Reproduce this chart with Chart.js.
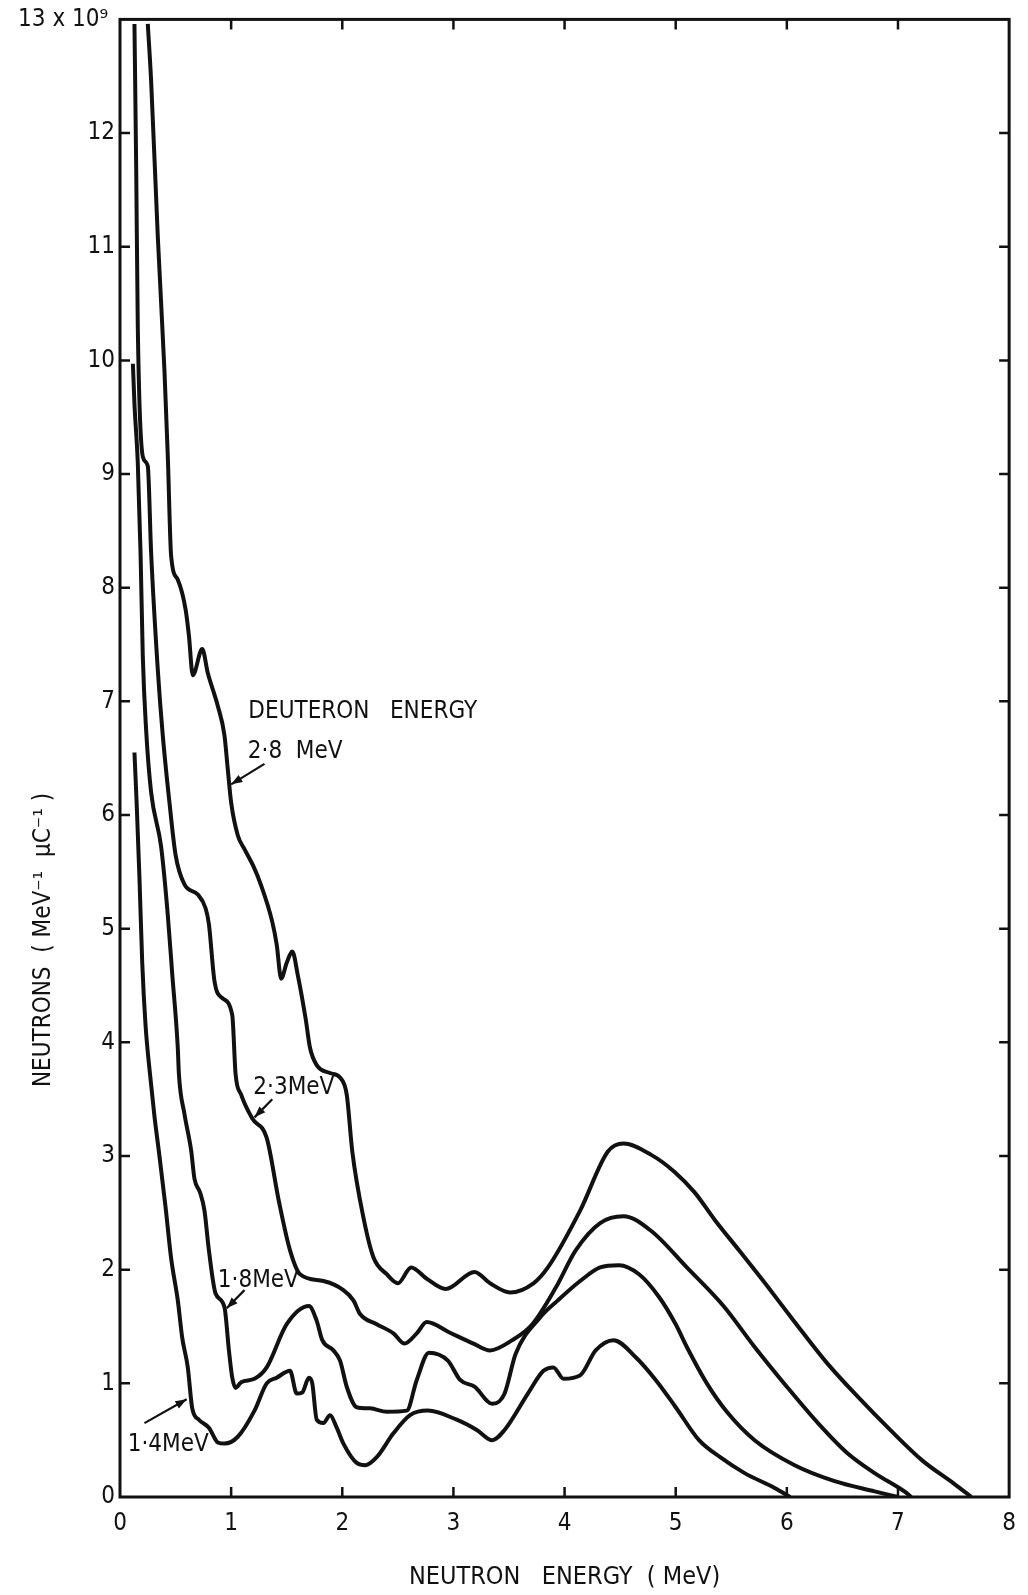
<!DOCTYPE html>
<html>
<head>
<meta charset="utf-8">
<script src="https://cdn.jsdelivr.net/npm/chart.js@4.4.1/dist/chart.umd.min.js"></script>
<style>
html, body { margin: 0; background: #fff; }
canvas { display: block; }
</style>
</head>
<body>
<canvas id="plot" width="1028" height="1595"></canvas>
<script>
// neutron spectra, [energy MeV, neutrons x1e9]
const e28 = [[0.25,12.96],[0.28,12.46],[0.34,11.09],[0.40,9.91],[0.43,9.16],[0.46,8.28],[0.52,8.07],[0.59,7.81],[0.62,7.58],[0.655,7.23],[0.74,7.46],[0.79,7.25],[0.88,6.96],[0.94,6.70],[0.97,6.40],[1.00,6.11],[1.06,5.82],[1.12,5.70],[1.20,5.55],[1.27,5.38],[1.37,5.06],[1.41,4.86],[1.45,4.56],[1.50,4.70],[1.55,4.80],[1.60,4.59],[1.67,4.21],[1.71,3.95],[1.77,3.80],[1.89,3.73],[1.98,3.69],[2.04,3.54],[2.09,3.04],[2.19,2.46],[2.28,2.11],[2.40,1.96],[2.50,1.88],[2.62,2.02],[2.76,1.92],[2.93,1.83],[3.19,1.98],[3.33,1.88],[3.51,1.80],[3.72,1.88],[3.85,2.02],[4.14,2.52],[4.39,3.04],[4.53,3.11],[4.78,3.01],[4.99,2.86],[5.17,2.68],[5.35,2.44],[5.57,2.17],[5.82,1.86],[6.07,1.54],[6.36,1.18],[6.64,0.88],[6.93,0.59],[7.22,0.32],[7.50,0.12],[7.66,0]];
const e23 = [[0.13,12.96],[0.146,11.67],[0.16,10.3],[0.206,9.15],[0.25,9.07],[0.28,8.31],[0.34,7.28],[0.385,6.7],[0.445,6.11],[0.50,5.65],[0.58,5.39],[0.70,5.30],[0.77,5.18],[0.80,5.04],[0.85,4.54],[0.92,4.39],[1.01,4.24],[1.04,3.72],[1.09,3.54],[1.19,3.33],[1.32,3.16],[1.43,2.6],[1.53,2.17],[1.62,1.96],[1.83,1.90],[2.01,1.82],[2.10,1.73],[2.16,1.61],[2.31,1.52],[2.46,1.44],[2.56,1.35],[2.67,1.44],[2.76,1.54],[2.96,1.45],[3.18,1.35],[3.33,1.29],[3.53,1.38],[3.71,1.52],[3.92,1.84],[4.10,2.17],[4.32,2.41],[4.53,2.47],[4.78,2.34],[5.10,2.02],[5.43,1.68],[5.71,1.32],[6.00,0.97],[6.28,0.65],[6.54,0.39],[6.79,0.21],[7.07,0.04],[7.12,0]];
const e18 = [[0.116,9.97],[0.13,9.62],[0.16,9.1],[0.185,8.3],[0.205,7.4],[0.235,6.75],[0.28,6.2],[0.37,5.72],[0.43,5.12],[0.47,4.6],[0.52,3.95],[0.53,3.72],[0.58,3.37],[0.64,3.05],[0.67,2.8],[0.72,2.68],[0.76,2.52],[0.80,2.17],[0.86,1.79],[0.94,1.67],[0.98,1.29],[1.01,1.05],[1.04,0.96],[1.09,1.01],[1.21,1.04],[1.32,1.14],[1.50,1.52],[1.70,1.68],[1.77,1.55],[1.82,1.38],[1.92,1.29],[1.98,1.2],[2.04,0.97],[2.13,0.79],[2.25,0.78],[2.40,0.75],[2.58,0.76],[2.67,1.03],[2.78,1.27],[2.95,1.2],[3.06,1.03],[3.19,0.97],[3.35,0.82],[3.46,0.91],[3.56,1.26],[3.78,1.58],[3.94,1.73],[4.14,1.90],[4.32,2.02],[4.49,2.04],[4.67,1.96],[4.85,1.76],[5.00,1.52],[5.10,1.32],[5.28,1.0],[5.46,0.75],[5.71,0.50],[6.07,0.28],[6.43,0.14],[6.79,0.05],[7.0,0]];
const e14 = [[0.13,6.55],[0.15,6.1],[0.175,5.45],[0.20,4.7],[0.23,4.15],[0.27,3.72],[0.31,3.35],[0.355,3.0],[0.41,2.55],[0.46,2.1],[0.52,1.73],[0.56,1.40],[0.61,1.14],[0.65,0.78],[0.71,0.68],[0.80,0.61],[0.88,0.48],[0.94,0.47],[1.06,0.53],[1.21,0.76],[1.32,1.0],[1.41,1.05],[1.53,1.11],[1.59,0.91],[1.64,0.92],[1.70,1.05],[1.73,1.0],[1.77,0.68],[1.83,0.65],[1.89,0.72],[1.95,0.61],[2.01,0.47],[2.13,0.30],[2.21,0.28],[2.31,0.35],[2.46,0.56],[2.61,0.72],[2.77,0.76],[3.03,0.68],[3.21,0.59],[3.35,0.50],[3.46,0.59],[3.67,0.91],[3.81,1.11],[3.90,1.14],[3.99,1.04],[4.14,1.07],[4.28,1.29],[4.44,1.38],[4.64,1.23],[4.82,1.03],[5.00,0.79],[5.21,0.50],[5.40,0.35],[5.62,0.21],[5.89,0.08],[6.03,0]];

const seriesNames = ['2·8 MeV', '2·3 MeV', '1·8 MeV', '1·4 MeV'];
const xTicks = [0, 1, 2, 3, 4, 5, 6, 7, 8];
const yTicks = [0, 1, 2, 3, 4, 5, 6, 7, 8, 9, 10, 11, 12, 13];

const ink = '#111';
const face = "'DejaVu Sans Condensed', 'DejaVu Sans', sans-serif";

// curve labels and arrows, placed in data units
const notes = [
    { text: 'DEUTERON   ENERGY', x: 1.155, y: 6.91 },
    { text: '2·8  MeV', x: 1.15, y: 6.56 },
    { text: '2·3MeV', x: 1.2, y: 3.6 },
    { text: '1·8MeV', x: 0.88, y: 1.9 },
    { text: '1·4MeV', x: 0.07, y: 0.46 }
];
const arrows = [
    [1.30, 6.45, 1.0, 6.27],
    [1.37, 3.50, 1.21, 3.34],
    [1.12, 1.82, 0.96, 1.66],
    [0.22, 0.65, 0.60, 0.86]
];

function toPoints(arr) {
    return arr.map(p => ({ x: p[0], y: p[1] }));
}

const frame = {
    id: 'frame',
    afterDraw(chart) {
        const { ctx, chartArea: a, scales: { x, y } } = chart;
        ctx.save();
        ctx.strokeStyle = ink;
        ctx.fillStyle = ink;
        ctx.lineWidth = 3;
        ctx.strokeRect(a.left, a.top, a.right - a.left, a.bottom - a.top);

        // inward ticks on all four sides
        ctx.lineWidth = 2.5;
        ctx.beginPath();
        xTicks.slice(1, -1).forEach(v => {
            const px = x.getPixelForValue(v);
            ctx.moveTo(px, a.bottom); ctx.lineTo(px, a.bottom - 10);
            ctx.moveTo(px, a.top); ctx.lineTo(px, a.top + 10);
        });
        yTicks.slice(1, -1).forEach(v => {
            const py = y.getPixelForValue(v);
            ctx.moveTo(a.left, py); ctx.lineTo(a.left + 10, py);
            ctx.moveTo(a.right, py); ctx.lineTo(a.right - 10, py);
        });
        ctx.stroke();

        ctx.font = '24px ' + face;
        ctx.textBaseline = 'middle';
        ctx.textAlign = 'left';
        notes.forEach(n => {
            ctx.fillText(n.text, x.getPixelForValue(n.x), y.getPixelForValue(n.y));
        });

        ctx.lineWidth = 2.2;
        arrows.forEach(r => {
            const x0 = x.getPixelForValue(r[0]), y0 = y.getPixelForValue(r[1]);
            const x1 = x.getPixelForValue(r[2]), y1 = y.getPixelForValue(r[3]);
            const ang = Math.atan2(y1 - y0, x1 - x0);
            ctx.beginPath();
            ctx.moveTo(x0, y0); ctx.lineTo(x1, y1);
            ctx.stroke();
            ctx.beginPath();
            ctx.moveTo(x1, y1);
            ctx.lineTo(x1 - 12 * Math.cos(ang - 0.35), y1 - 12 * Math.sin(ang - 0.35));
            ctx.lineTo(x1 - 12 * Math.cos(ang + 0.35), y1 - 12 * Math.sin(ang + 0.35));
            ctx.closePath();
            ctx.fill();
        });

        // y axis title, sits lower than the middle in the original
        ctx.save();
        ctx.translate(44, 940);
        ctx.rotate(-Math.PI / 2);
        ctx.textAlign = 'center';
        ctx.font = '24px ' + face;
        ctx.fillText('NEUTRONS  ( MeV⁻¹  μC⁻¹ )', 0, 0);
        ctx.restore();

        ctx.restore();
    }
};

const datasets = [e28, e23, e18, e14].map((d, i) => ({
    label: seriesNames[i],
    data: toPoints(d),
    borderColor: ink,
    borderWidth: 4,
    pointRadius: 0,
    fill: false,
    cubicInterpolationMode: 'monotone'
}));

new Chart(document.getElementById('plot'), {
    type: 'line',
    data: { datasets: datasets },
    options: {
        responsive: false,
        animation: false,
        devicePixelRatio: 1,
        layout: { padding: { top: 14, right: 12, left: 0, bottom: 0 } },
        plugins: { legend: { display: false }, tooltip: { enabled: false } },
        scales: {
            x: {
                type: 'linear',
                min: 0,
                max: 8,
                afterFit: s => { s.height = 98; },
                grid: { display: false, drawTicks: false },
                border: { display: false },
                ticks: {
                    stepSize: 1,
                    padding: 12,
                    color: ink,
                    font: { family: face, size: 24 }
                },
                title: {
                    display: true,
                    text: 'NEUTRON   ENERGY  ( MeV)',
                    color: ink,
                    font: { family: face, size: 25 },
                    padding: { top: 0, bottom: 3 }
                }
            },
            y: {
                min: 0,
                max: 13,
                afterFit: s => { s.width = 120; },
                grid: { display: false, drawTicks: false },
                border: { display: false },
                ticks: {
                    stepSize: 1,
                    padding: 5,
                    color: ink,
                    font: { family: face, size: 24 },
                    callback: v => v === 13 ? '13 x 10⁹ ' : v
                }
            }
        }
    },
    plugins: [frame]
});
</script>
</body>
</html>
